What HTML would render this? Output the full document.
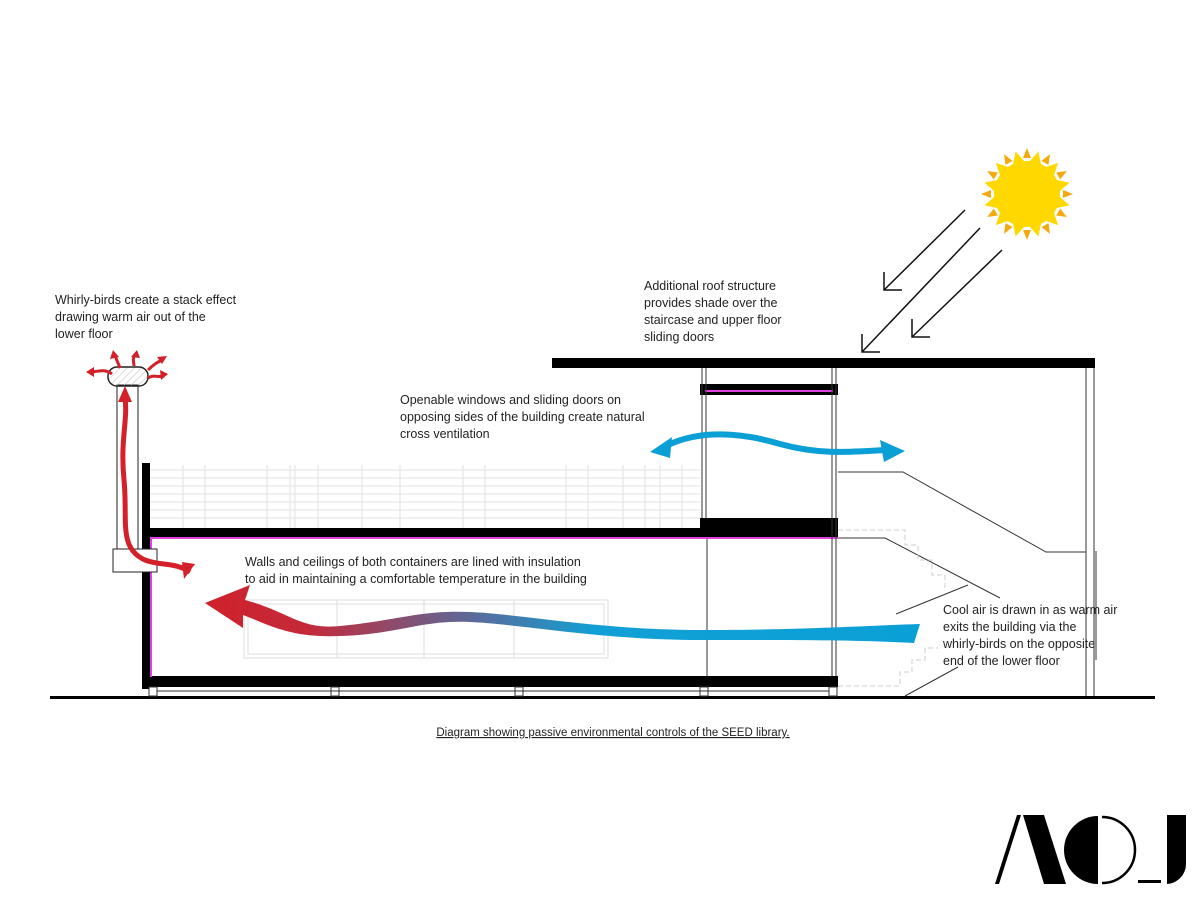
<!DOCTYPE html>
<html><head><meta charset="utf-8"><style>
html,body{margin:0;padding:0;background:#fff;}
svg text{font-family:"Liberation Sans",sans-serif;font-size:12.5px;fill:#222;}
</style></head><body>
<svg width="1200" height="900" viewBox="0 0 1200 900" xmlns="http://www.w3.org/2000/svg">
<defs>
<linearGradient id="g" x1="200" y1="0" x2="920" y2="0" gradientUnits="userSpaceOnUse">
<stop offset="0" stop-color="#d0202a"/><stop offset="0.15" stop-color="#c42a3a"/>
<stop offset="0.38" stop-color="#5a6a9a"/><stop offset="0.55" stop-color="#11a0d5"/>
<stop offset="1" stop-color="#0aa0d6"/></linearGradient>
<pattern id="h" width="5" height="5" patternUnits="userSpaceOnUse" patternTransform="rotate(45)"><line x1="0" y1="0" x2="0" y2="5" stroke="#bbb" stroke-width="1"/></pattern>
</defs>

<!-- railing -->
<g stroke="#e2e2e2" stroke-width="1">
<line x1="150" y1="470" x2="700" y2="470"/><line x1="150" y1="478" x2="700" y2="478"/>
<line x1="150" y1="486" x2="700" y2="486"/><line x1="150" y1="494" x2="700" y2="494"/>
<line x1="150" y1="502" x2="700" y2="502"/><line x1="150" y1="510" x2="700" y2="510"/>
<line x1="150" y1="518" x2="700" y2="518"/>
<line x1="183" y1="465" x2="183" y2="528"/><line x1="205" y1="465" x2="205" y2="528"/>
<line x1="267" y1="465" x2="267" y2="528"/><line x1="290" y1="465" x2="290" y2="528"/>
<line x1="295" y1="465" x2="295" y2="528"/><line x1="318" y1="465" x2="318" y2="528"/>
<line x1="362" y1="465" x2="362" y2="528"/><line x1="400" y1="465" x2="400" y2="528"/>
<line x1="463" y1="465" x2="463" y2="528"/><line x1="485" y1="465" x2="485" y2="528"/>
<line x1="566" y1="465" x2="566" y2="528"/><line x1="588" y1="465" x2="588" y2="528"/>
<line x1="623" y1="465" x2="623" y2="528"/><line x1="645" y1="465" x2="645" y2="528"/>
<line x1="660" y1="465" x2="660" y2="528"/><line x1="682" y1="465" x2="682" y2="528"/>
</g>
<g stroke="#ddd" fill="none">
<rect x="244" y="600" width="364" height="58"/><rect x="248" y="604" width="356" height="50"/>
<line x1="337" y1="600" x2="337" y2="658"/><line x1="424" y1="600" x2="424" y2="658"/><line x1="514" y1="600" x2="514" y2="658"/>
</g>

<rect x="50" y="696" width="1105" height="3" fill="#000"/>
<rect x="142" y="463" width="8" height="226" fill="#000"/>
<rect x="142" y="528" width="696" height="9" fill="#000"/>
<rect x="142" y="676" width="696" height="11" fill="#000"/>
<rect x="150" y="537" width="688" height="2" fill="#e040e0"/>
<rect x="150" y="537" width="2" height="140" fill="#e040e0"/>
<g stroke="#333" fill="#fff" stroke-width="1">
<rect x="149" y="687" width="8" height="9"/><rect x="331" y="687" width="8" height="9"/>
<rect x="515" y="687" width="8" height="9"/><rect x="700" y="687" width="8" height="9"/><rect x="829" y="687" width="8" height="9"/>
</g>
<line x1="157" y1="691" x2="829" y2="691" stroke="#333"/>
<rect x="700" y="518" width="138" height="12" fill="#000"/>
<rect x="700" y="384" width="138" height="11" fill="#000"/>
<rect x="705" y="390" width="128" height="2" fill="#e040e0"/>
<g stroke="#333" stroke-width="1">
<line x1="702" y1="368" x2="702" y2="518"/><line x1="706" y1="368" x2="706" y2="518"/>
<line x1="707" y1="539" x2="707" y2="676"/>
<line x1="832" y1="368" x2="832" y2="676"/><line x1="836" y1="368" x2="836" y2="676"/>
</g>
<rect x="552" y="358" width="543" height="10" fill="#000"/>
<line x1="1086" y1="368" x2="1086" y2="696" stroke="#333"/>
<line x1="1094" y1="368" x2="1094" y2="696" stroke="#333"/>
<line x1="1096" y1="551" x2="1096" y2="660" stroke="#333"/>
<polyline points="838,472 903,472 1046,552 1086,552" fill="none" stroke="#333"/>
<polyline points="838,538 885,538 1000,598" fill="none" stroke="#333"/>
<polyline points="838,530 905,530 905,545 918,545 918,560 932,560 932,575 945,575 945,590" fill="none" stroke="#ccc" stroke-dasharray="5,3"/>
<polyline points="838,686 900,686 900,672 912,672 912,660 925,660 925,648 938,648" fill="none" stroke="#ccc" stroke-dasharray="5,3"/>
<line x1="896" y1="614" x2="968" y2="585" stroke="#333"/>
<line x1="905" y1="696" x2="958" y2="667" stroke="#333"/>

<rect x="117" y="385" width="21" height="164" fill="#fff" stroke="#222"/>
<rect x="113" y="549" width="44" height="23" fill="#fff" stroke="#222"/>
<rect x="108" y="367" width="40" height="19" rx="9" fill="url(#h)" stroke="#222" stroke-width="1.5"/>
<path d="M190,572 C175,562 160,566 145,560 C118,548 128,520 124,480 C120,440 128,420 125,398" fill="none" stroke="#d42028" stroke-width="5"/>
<polygon points="125,386 118,402 132,402" fill="#d42028"/>
<polygon points="195,564 184,579 182,562" fill="#d42028"/>
<g fill="none" stroke="#d42028" stroke-width="3">
<path d="M112,374 C104,368 98,372 90,372"/><path d="M120,368 C118,362 116,360 115,354"/>
<path d="M134,366 C134,362 132,360 135,354"/><path d="M148,370 C154,364 158,362 162,360"/>
<path d="M148,378 C154,374 158,378 164,376"/>
</g>
<g fill="#d42028">
<polygon points="86,372 94,367 94,377"/><polygon points="113,350 110,359 119,357"/>
<polygon points="137,350 131,357 140,358"/><polygon points="167,356 157,357 162,364"/>
<polygon points="168,374 160,370 161,380"/>
</g>

<path d="M205,603 L250,585 L245,600 C290,612 300,630 340,626 C400,620 420,610 470,612 C520,614 600,630 700,630 C800,630 860,626 920,624 L914,643 C860,640 800,640 700,640 C600,640 520,624 470,622 C420,620 400,634 340,636 C290,638 270,625 243,615 L243,628 Z" fill="url(#g)"/>

<path d="M668,445 C700,430 740,432 780,444 C820,455 850,452 885,450" fill="none" stroke="#0aa0d6" stroke-width="6"/>
<polygon points="650,452 672,437 670,458" fill="#0aa0d6"/>
<polygon points="905,451 880,440 884,462" fill="#0aa0d6"/>

<circle cx="1027" cy="194" r="33" fill="#ffd800"/>
<g fill="#f5a90f" transform="translate(1027,194)">
<polygon points="-4,-36 4,-36 0,-46"/><polygon points="-4,36 4,36 0,46"/>
<polygon points="-36,-4 -36,4 -46,0"/><polygon points="36,-4 36,4 46,0"/>
<g transform="rotate(30)"><polygon points="-4,-36 4,-36 0,-46"/><polygon points="-4,36 4,36 0,46"/><polygon points="-36,-4 -36,4 -46,0"/><polygon points="36,-4 36,4 46,0"/></g>
<g transform="rotate(60)"><polygon points="-4,-36 4,-36 0,-46"/><polygon points="-4,36 4,36 0,46"/><polygon points="-36,-4 -36,4 -46,0"/><polygon points="36,-4 36,4 46,0"/></g>
</g>
<g fill="#ffd800" transform="translate(1027,194)">
<g transform="rotate(15)"><polygon points="-6,-32 6,-32 0,-44"/><polygon points="-6,32 6,32 0,44"/><polygon points="-32,-6 -32,6 -44,0"/><polygon points="32,-6 32,6 44,0"/></g>
<g transform="rotate(45)"><polygon points="-6,-32 6,-32 0,-44"/><polygon points="-6,32 6,32 0,44"/><polygon points="-32,-6 -32,6 -44,0"/><polygon points="32,-6 32,6 44,0"/></g>
<g transform="rotate(75)"><polygon points="-6,-32 6,-32 0,-44"/><polygon points="-6,32 6,32 0,44"/><polygon points="-32,-6 -32,6 -44,0"/><polygon points="32,-6 32,6 44,0"/></g>
</g>
<g stroke="#111" stroke-width="1.5" fill="none">
<line x1="965" y1="210" x2="884" y2="290"/><polyline points="884,272 884,290 902,290"/>
<line x1="980" y1="228" x2="862" y2="352"/><polyline points="862,334 862,352 880,352"/>
<line x1="1002" y1="250" x2="912" y2="337"/><polyline points="912,319 912,337 930,337"/>
</g>

<text x="55" y="304">Whirly-birds create a stack effect</text>
<text x="55" y="321">drawing warm air out of the</text>
<text x="55" y="338">lower floor</text>
<text x="644" y="290">Additional roof structure</text>
<text x="644" y="307">provides shade over the</text>
<text x="644" y="324">staircase and upper floor</text>
<text x="644" y="341">sliding doors</text>
<text x="400" y="404">Openable windows and sliding doors on</text>
<text x="400" y="421">opposing sides of the building create natural</text>
<text x="400" y="438">cross ventilation</text>
<text x="245" y="566">Walls and ceilings of both containers are lined with insulation</text>
<text x="245" y="583">to aid in maintaining a comfortable temperature in the building</text>
<text x="943" y="614">Cool air is drawn in as warm air</text>
<text x="943" y="631">exits the building via the</text>
<text x="943" y="648">whirly-birds on the opposite</text>
<text x="943" y="665">end of the lower floor</text>
<text x="613" y="736" text-anchor="middle" style="font-size:11.5px;text-decoration:underline">Diagram showing passive environmental controls of the SEED library.</text>

<g fill="#000">
<polygon points="1017,815 1021,815 999,884 995,884"/>
<polygon points="1023,815 1044,815 1066,884 1044,884"/>
<path d="M1098,816 A34,34 0 0 0 1098,884 Z"/>
<path d="M1102,817 A33,33 0 0 1 1102,883" fill="none" stroke="#000" stroke-width="2.5"/>
<rect x="1138" y="880" width="23" height="3"/>
<path d="M1167,815 L1186,815 L1186,864 A20,20 0 0 1 1167,884 Z"/>
</g>
</svg>
</body></html>
